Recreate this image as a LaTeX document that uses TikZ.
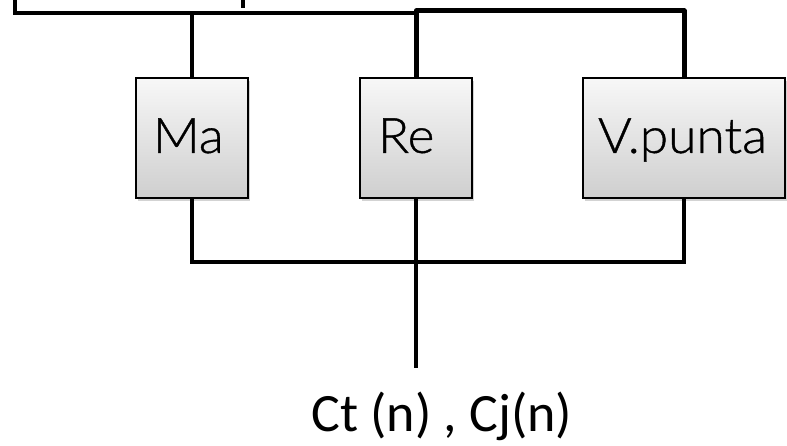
\documentclass[tikz,border=0pt]{standalone}
\usepackage{fontspec}
\setmainfont{Carlito}
\newfontfamily\boxfont{Lato}[UprightFont=* Light, FakeStretch=1.05, FakeBold=0.8]
\usetikzlibrary{shadows}
\begin{document}
\begin{tikzpicture}[x=1pt,y=-1pt,
  blk/.style={draw=black, line width=1.3pt, top color=gray!6, bottom color=gray!38,
    drop shadow={shadow xshift=2pt, shadow yshift=-3pt, opacity=0.35},
    font=\boxfont\fontsize{49}{52}\selectfont, inner ysep=0pt, align=left,
    minimum height=120pt, text height=36pt, text depth=6pt},
  wire/.style={line width=3.8pt, line cap=butt},
  fatwire/.style={line width=5pt, line cap=butt, line join=round}]
\useasboundingbox (0,0) rectangle (787,446);
% boxes
\node[blk, minimum width=112pt, inner xsep=17pt, text width=78pt] (ma) at (192,138) {Ma};
\node[blk, minimum width=112pt, inner xsep=18pt, text width=76pt] (re) at (416,138) {Re};
\node[blk, minimum width=202pt, inner xsep=15pt, text width=172pt] (vp) at (684,138) {V.punta};
% coordinates
\coordinate (L) at (15,-2);
\coordinate (J) at (416,13);
\coordinate (T) at (416,11);
\coordinate (tk1) at (243,-2);
\coordinate (tk2) at (243,8);
\coordinate (B) at (416,262);
\coordinate (E) at (416,368);
% top wires
\draw[wire] (L) |- (J);
\draw[wire] (ma.north) -- (ma.north |- J);
\draw[wire] (tk1) -- (tk2);
\draw[fatwire] (re.north) -- (T) -| (vp.north);
% bottom wires
\draw[wire] (ma.south) |- (B) -| (vp.south);
\draw[wire] (re.south) -- (E);
% output label
\node[font=\fontsize{54}{58}\selectfont, anchor=base] (out) at (442,431) {Ct (n) , Cj(n)};
\end{tikzpicture}
\end{document}
